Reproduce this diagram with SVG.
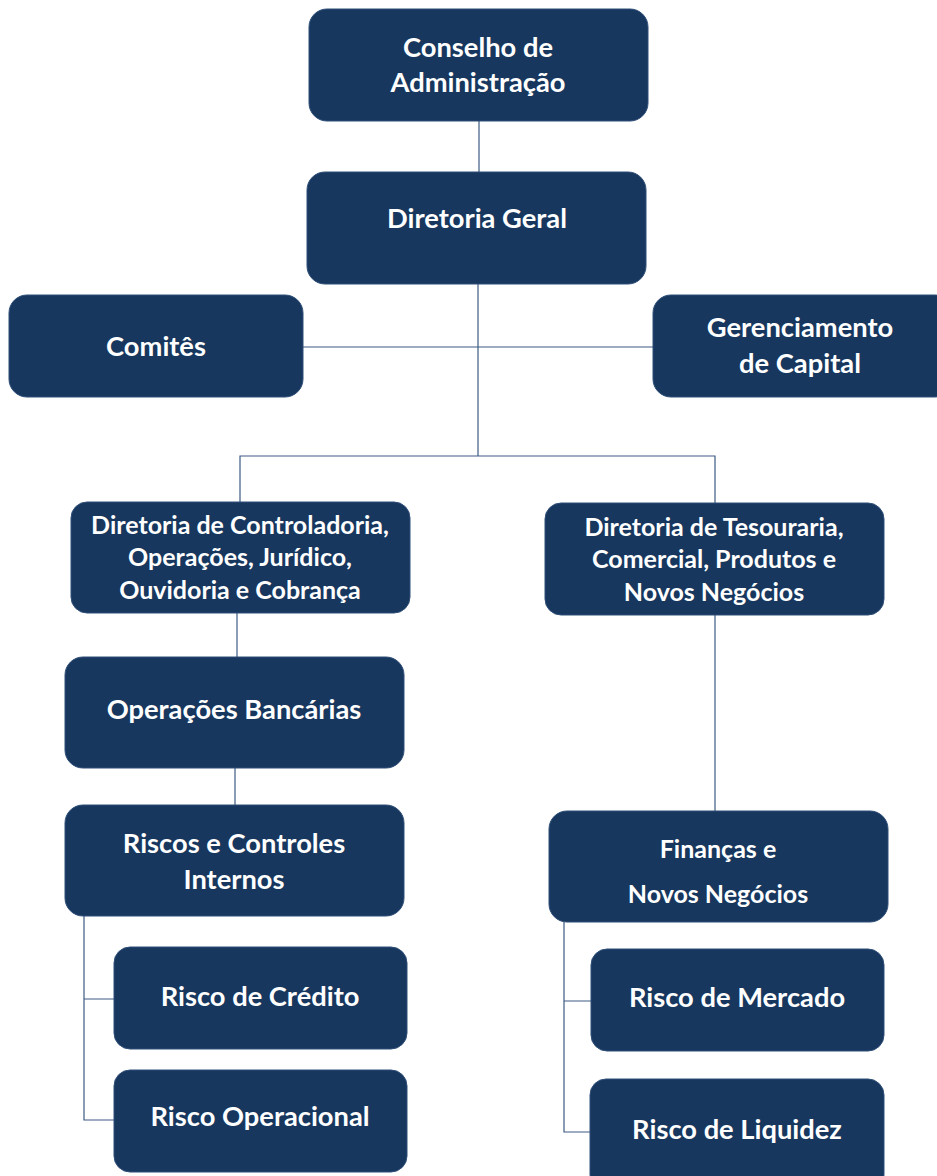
<svg xmlns="http://www.w3.org/2000/svg" width="937" height="1176" viewBox="0 0 937 1176">
<style>
.n{fill:#17375e;stroke:#2f4f78;stroke-width:1}
.t{fill:#ffffff;font-family:Lato,"Open Sans",sans-serif;font-weight:bold;text-anchor:middle}
.l{font-size:27.3px}
.s{font-size:25px}
.c{fill:none;stroke:#3d5b82;stroke-width:1.2}
</style>
<rect width="937" height="1176" fill="#ffffff"/>
<g id="connectors">
<path class="c" d="M479 121V172"/>
<path class="c" d="M478 284V456"/>
<path class="c" d="M303 347H653"/>
<path class="c" d="M240 502V456H715V503"/>
<path class="c" d="M237 613V657"/>
<path class="c" d="M235 768V805"/>
<path class="c" d="M715 615V811"/>
<path class="c" d="M84 916V1120H114M84 999H114"/>
<path class="c" d="M564 922V1132H590M564 1001H591"/>
</g>
<g id="conselho"><rect class="n" x="309" y="9" width="339" height="112" rx="18"/><text class="t l" x="478" y="57">Conselho de</text><text class="t l" x="478" y="92">Administração</text></g>
<g id="diretoria-geral"><rect class="n" x="307" y="172" width="339" height="112" rx="18"/><text class="t l" x="477" y="228">Diretoria Geral</text></g>
<g id="comites"><rect class="n" x="9" y="295" width="294" height="102" rx="18"/><text class="t l" x="156" y="356">Comitês</text></g>
<g id="gerenciamento"><rect class="n" x="653" y="295" width="300" height="102" rx="18"/><text class="t l" x="800" y="337">Gerenciamento</text><text class="t l" x="800" y="373">de Capital</text></g>
<g id="dir-controladoria"><rect class="n" x="71" y="502" width="339" height="111" rx="16"/><text class="t s" x="240" y="534">Diretoria de Controladoria,</text><text class="t s" x="240" y="566">Operações, Jurídico,</text><text class="t s" x="240" y="599">Ouvidoria e Cobrança</text></g>
<g id="dir-tesouraria"><rect class="n" x="545" y="503" width="339" height="112" rx="16"/><text class="t s" x="714" y="536">Diretoria de Tesouraria,</text><text class="t s" x="714" y="568">Comercial, Produtos e</text><text class="t s" x="714" y="601">Novos Negócios</text></g>
<g id="operacoes"><rect class="n" x="65" y="657" width="339" height="111" rx="18"/><text class="t l" x="234" y="719">Operações Bancárias</text></g>
<g id="riscos-controles"><rect class="n" x="65" y="805" width="339" height="111" rx="18"/><text class="t l" x="234" y="853">Riscos e Controles</text><text class="t l" x="234" y="889">Internos</text></g>
<g id="financas"><rect class="n" x="549" y="811" width="339" height="111" rx="18"/><text class="t s" x="718" y="858">Finanças e</text><text class="t s" x="718" y="903">Novos Negócios</text></g>
<g id="risco-credito"><rect class="n" x="114" y="947" width="293" height="102" rx="16"/><text class="t l" x="260" y="1006">Risco de Crédito</text></g>
<g id="risco-operacional"><rect class="n" x="114" y="1070" width="293" height="102" rx="16"/><text class="t l" x="260" y="1126">Risco Operacional</text></g>
<g id="risco-mercado"><rect class="n" x="591" y="949" width="293" height="102" rx="16"/><text class="t l" x="737" y="1007">Risco de Mercado</text></g>
<g id="risco-liquidez"><rect class="n" x="590" y="1079" width="294" height="112" rx="16"/><text class="t l" x="737" y="1139">Risco de Liquidez</text></g>
</svg>
